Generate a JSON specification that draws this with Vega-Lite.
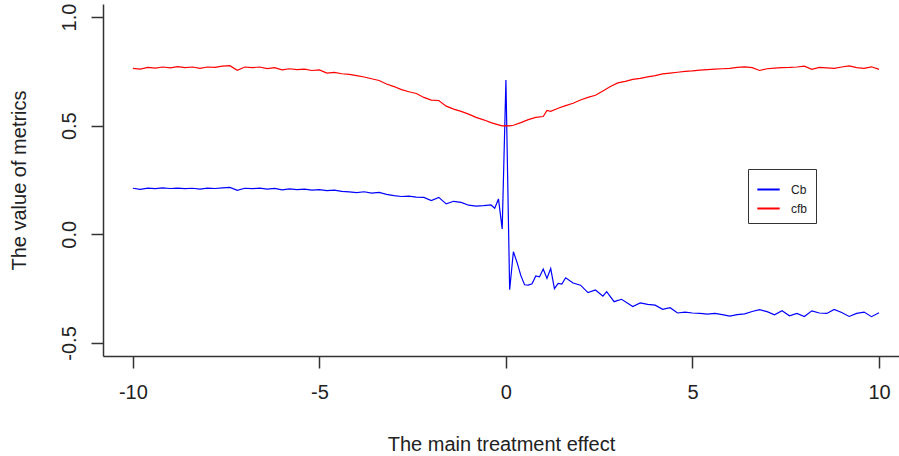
{
  "$schema": "https://vega.github.io/schema/vega-lite/v6.json",
  "width": 796,
  "height": 352,
  "autosize": {"type": "none"},
  "padding": {"left": 103, "top": 4, "right": 0, "bottom": 100},
  "background": "white",
  "config": {
    "view": {"stroke": null},
    "font": "Liberation Sans",
    "axis": {"grid": false, "domainColor": "#333", "domainWidth": 1.5, "tickColor": "#333", "tickWidth": 1.5, "tickSize": 12, "labelFontSize": 20, "labelColor": "#222", "titleFontSize": 20, "titleFontWeight": "normal", "titleColor": "#222", "labelFont": "Liberation Sans", "titleFont": "Liberation Sans"}
  },
  "datasets": {
    "Cb": [
      {"x": -10, "v": 0.212}, {"x": -9.8, "v": 0.207}, {"x": -9.6, "v": 0.213}, {"x": -9.4, "v": 0.210}, {"x": -9.2, "v": 0.214},
      {"x": -9.0, "v": 0.211}, {"x": -8.8, "v": 0.213}, {"x": -8.6, "v": 0.210}, {"x": -8.4, "v": 0.212}, {"x": -8.2, "v": 0.208},
      {"x": -8.0, "v": 0.213}, {"x": -7.8, "v": 0.211}, {"x": -7.6, "v": 0.214}, {"x": -7.4, "v": 0.216}, {"x": -7.2, "v": 0.202},
      {"x": -7.0, "v": 0.212}, {"x": -6.8, "v": 0.210}, {"x": -6.6, "v": 0.213}, {"x": -6.4, "v": 0.208}, {"x": -6.2, "v": 0.211},
      {"x": -6.0, "v": 0.205}, {"x": -5.8, "v": 0.209}, {"x": -5.6, "v": 0.206}, {"x": -5.4, "v": 0.208}, {"x": -5.2, "v": 0.203},
      {"x": -5.0, "v": 0.206}, {"x": -4.8, "v": 0.201}, {"x": -4.6, "v": 0.203}, {"x": -4.4, "v": 0.198}, {"x": -4.2, "v": 0.195},
      {"x": -4.0, "v": 0.192}, {"x": -3.8, "v": 0.196}, {"x": -3.6, "v": 0.190}, {"x": -3.4, "v": 0.193}, {"x": -3.2, "v": 0.184},
      {"x": -3.0, "v": 0.178}, {"x": -2.8, "v": 0.174}, {"x": -2.6, "v": 0.176}, {"x": -2.4, "v": 0.171}, {"x": -2.2, "v": 0.170},
      {"x": -2.0, "v": 0.155}, {"x": -1.8, "v": 0.170}, {"x": -1.6, "v": 0.140}, {"x": -1.4, "v": 0.152}, {"x": -1.2, "v": 0.147},
      {"x": -1.0, "v": 0.134}, {"x": -0.8, "v": 0.130}, {"x": -0.6, "v": 0.132}, {"x": -0.4, "v": 0.135}, {"x": -0.3, "v": 0.120},
      {"x": -0.2, "v": 0.163}, {"x": -0.1, "v": 0.025}, {"x": 0, "v": 0.710}, {"x": 0.1, "v": -0.255}, {"x": 0.2, "v": -0.080},
      {"x": 0.3, "v": -0.130}, {"x": 0.4, "v": -0.190}, {"x": 0.5, "v": -0.232}, {"x": 0.6, "v": -0.234}, {"x": 0.7, "v": -0.228},
      {"x": 0.8, "v": -0.192}, {"x": 0.9, "v": -0.196}, {"x": 1.0, "v": -0.160}, {"x": 1.1, "v": -0.203}, {"x": 1.2, "v": -0.157},
      {"x": 1.3, "v": -0.250}, {"x": 1.4, "v": -0.226}, {"x": 1.5, "v": -0.229}, {"x": 1.6, "v": -0.200}, {"x": 1.8, "v": -0.224},
      {"x": 2.0, "v": -0.234}, {"x": 2.2, "v": -0.268}, {"x": 2.4, "v": -0.256}, {"x": 2.6, "v": -0.285}, {"x": 2.7, "v": -0.264},
      {"x": 2.9, "v": -0.310}, {"x": 3.1, "v": -0.299}, {"x": 3.4, "v": -0.332}, {"x": 3.6, "v": -0.316}, {"x": 3.8, "v": -0.322},
      {"x": 4.0, "v": -0.326}, {"x": 4.2, "v": -0.345}, {"x": 4.4, "v": -0.338}, {"x": 4.6, "v": -0.362}, {"x": 4.8, "v": -0.358},
      {"x": 5.0, "v": -0.362}, {"x": 5.2, "v": -0.364}, {"x": 5.4, "v": -0.367}, {"x": 5.6, "v": -0.364}, {"x": 5.8, "v": -0.370},
      {"x": 6.0, "v": -0.376}, {"x": 6.2, "v": -0.370}, {"x": 6.4, "v": -0.366}, {"x": 6.6, "v": -0.355}, {"x": 6.8, "v": -0.347},
      {"x": 7.0, "v": -0.356}, {"x": 7.2, "v": -0.370}, {"x": 7.4, "v": -0.352}, {"x": 7.6, "v": -0.375}, {"x": 7.8, "v": -0.364},
      {"x": 8.0, "v": -0.378}, {"x": 8.2, "v": -0.352}, {"x": 8.4, "v": -0.362}, {"x": 8.6, "v": -0.364}, {"x": 8.8, "v": -0.346},
      {"x": 9.0, "v": -0.360}, {"x": 9.2, "v": -0.378}, {"x": 9.4, "v": -0.364}, {"x": 9.6, "v": -0.358}, {"x": 9.8, "v": -0.379},
      {"x": 10.0, "v": -0.361}
    ],
    "cfb": [
      {"x": -10, "v": 0.764}, {"x": -9.8, "v": 0.760}, {"x": -9.6, "v": 0.768}, {"x": -9.4, "v": 0.765}, {"x": -9.2, "v": 0.770},
      {"x": -9.0, "v": 0.766}, {"x": -8.8, "v": 0.772}, {"x": -8.6, "v": 0.767}, {"x": -8.4, "v": 0.770}, {"x": -8.2, "v": 0.764},
      {"x": -8.0, "v": 0.770}, {"x": -7.8, "v": 0.768}, {"x": -7.6, "v": 0.774}, {"x": -7.4, "v": 0.776}, {"x": -7.2, "v": 0.755},
      {"x": -7.0, "v": 0.770}, {"x": -6.8, "v": 0.767}, {"x": -6.6, "v": 0.770}, {"x": -6.4, "v": 0.763}, {"x": -6.2, "v": 0.767},
      {"x": -6.0, "v": 0.757}, {"x": -5.8, "v": 0.762}, {"x": -5.6, "v": 0.758}, {"x": -5.4, "v": 0.760}, {"x": -5.2, "v": 0.754},
      {"x": -5.0, "v": 0.757}, {"x": -4.8, "v": 0.742}, {"x": -4.6, "v": 0.745}, {"x": -4.4, "v": 0.739}, {"x": -4.2, "v": 0.736},
      {"x": -4.0, "v": 0.730}, {"x": -3.8, "v": 0.724}, {"x": -3.6, "v": 0.716}, {"x": -3.4, "v": 0.708}, {"x": -3.2, "v": 0.692},
      {"x": -3.0, "v": 0.680}, {"x": -2.8, "v": 0.666}, {"x": -2.6, "v": 0.656}, {"x": -2.4, "v": 0.648}, {"x": -2.2, "v": 0.630},
      {"x": -2.0, "v": 0.618}, {"x": -1.8, "v": 0.616}, {"x": -1.6, "v": 0.590}, {"x": -1.4, "v": 0.576}, {"x": -1.2, "v": 0.566},
      {"x": -1.0, "v": 0.553}, {"x": -0.8, "v": 0.538}, {"x": -0.6, "v": 0.527}, {"x": -0.4, "v": 0.514}, {"x": -0.2, "v": 0.504},
      {"x": -0.1, "v": 0.499}, {"x": 0, "v": 0.500}, {"x": 0.1, "v": 0.499}, {"x": 0.2, "v": 0.502}, {"x": 0.4, "v": 0.514},
      {"x": 0.6, "v": 0.528}, {"x": 0.8, "v": 0.538}, {"x": 1.0, "v": 0.542}, {"x": 1.1, "v": 0.570}, {"x": 1.2, "v": 0.566},
      {"x": 1.4, "v": 0.580}, {"x": 1.6, "v": 0.592}, {"x": 1.8, "v": 0.603}, {"x": 2.0, "v": 0.618}, {"x": 2.2, "v": 0.630},
      {"x": 2.4, "v": 0.640}, {"x": 2.6, "v": 0.660}, {"x": 2.8, "v": 0.680}, {"x": 3.0, "v": 0.697}, {"x": 3.2, "v": 0.704},
      {"x": 3.4, "v": 0.713}, {"x": 3.6, "v": 0.718}, {"x": 3.8, "v": 0.725}, {"x": 4.0, "v": 0.730}, {"x": 4.2, "v": 0.738},
      {"x": 4.4, "v": 0.742}, {"x": 4.6, "v": 0.746}, {"x": 4.8, "v": 0.750}, {"x": 5.0, "v": 0.752}, {"x": 5.2, "v": 0.756},
      {"x": 5.4, "v": 0.758}, {"x": 5.6, "v": 0.760}, {"x": 5.8, "v": 0.762}, {"x": 6.0, "v": 0.764}, {"x": 6.2, "v": 0.768},
      {"x": 6.4, "v": 0.771}, {"x": 6.6, "v": 0.767}, {"x": 6.8, "v": 0.754}, {"x": 7.0, "v": 0.762}, {"x": 7.2, "v": 0.765},
      {"x": 7.4, "v": 0.767}, {"x": 7.6, "v": 0.768}, {"x": 7.8, "v": 0.770}, {"x": 8.0, "v": 0.774}, {"x": 8.2, "v": 0.759},
      {"x": 8.4, "v": 0.768}, {"x": 8.6, "v": 0.766}, {"x": 8.8, "v": 0.764}, {"x": 9.0, "v": 0.770}, {"x": 9.2, "v": 0.775},
      {"x": 9.4, "v": 0.767}, {"x": 9.6, "v": 0.764}, {"x": 9.8, "v": 0.771}, {"x": 10.0, "v": 0.759}
    ]
  },
  "encoding": {
    "x": {"field": "x", "type": "quantitative", "scale": {"domain": [-10.8, 10.536], "nice": false, "zero": false},
      "axis": {"values": [-10, -5, 0, 5, 10], "labelExpr": "replace(datum.label, '\u2212', '-')", "title": "The main treatment effect", "labelPadding": 14, "titleBaseline": "alphabetic", "titleY": 94}},
    "y": {"field": "v", "type": "quantitative", "scale": {"domain": [-0.56, 1.06], "nice": false, "zero": false},
      "axis": {"values": [-0.5, 0, 0.5, 1], "format": ".1f", "labelExpr": "replace(datum.label, '\u2212', '-')", "labelAngle": -90, "labelPadding": 12, "title": "The value of metrics", "titleAngle": -90, "titleBaseline": "alphabetic", "titleX": -78, "titleY": 176}}
  },
  "layer": [
    {
      "data": {"name": "Cb"},
      "mark": {"type": "line", "strokeWidth": 1.2, "interpolate": "linear"},
      "encoding": {"color": {"datum": "Cb", "type": "nominal",
        "scale": {"domain": ["Cb", "cfb"], "range": ["#0000ff", "#ff0000"]},
        "legend": {"title": null, "orient": "none", "legendX": 645, "legendY": 165, "strokeColor": "#333", "padding": 8, "symbolType": "stroke", "symbolSize": 500, "symbolStrokeWidth": 2, "labelFontSize": 12, "labelFont": "Liberation Sans", "labelOffset": 10, "rowPadding": -8, "labelColor": "#222"}}}
    },
    {
      "data": {"name": "cfb"},
      "mark": {"type": "line", "strokeWidth": 1.2, "interpolate": "linear"},
      "encoding": {"color": {"datum": "cfb", "type": "nominal"}}
    },
    {
      "data": {"values": [{}]},
      "mark": {"type": "rule", "strokeDash": [7, 6], "strokeWidth": 1.6, "color": "#555"},
      "encoding": {"y": {"datum": 0.5}}
    },
    {
      "data": {"values": [{}]},
      "mark": {"type": "rule", "strokeDash": [7, 6], "strokeWidth": 1.6, "color": "#555"},
      "encoding": {"x": {"datum": 0}}
    },
    {
      "data": {"values": [{}]},
      "mark": {"type": "rule", "strokeWidth": 1.5, "color": "#555"},
      "encoding": {"y": {"datum": 1.06}}
    }
  ]
}
